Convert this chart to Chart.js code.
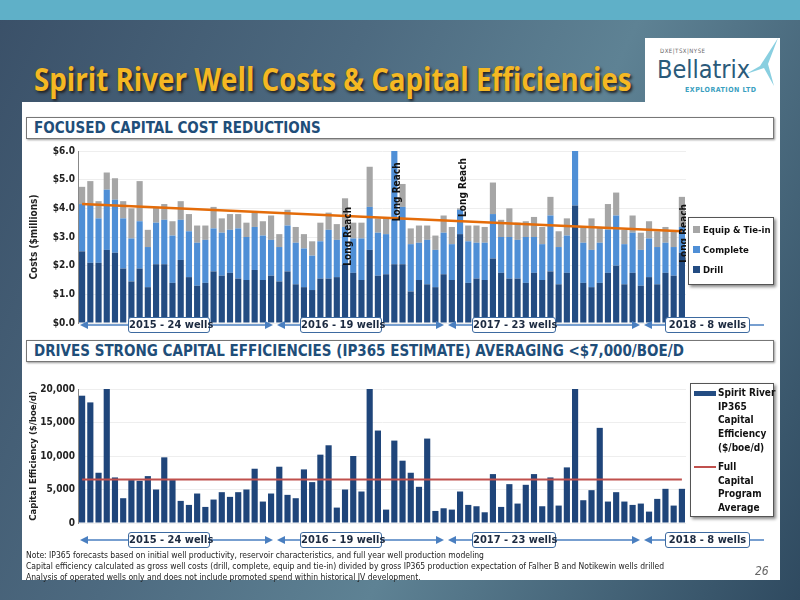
<!DOCTYPE html>
<html><head><meta charset="utf-8">
<script src="https://cdn.jsdelivr.net/npm/chart.js@4.4.1/dist/chart.umd.min.js"></script>
<style>
body{margin:0;width:800px;height:600px;overflow:hidden;font-family:"DejaVu Sans Condensed",sans-serif;
background:linear-gradient(115deg,#3a5068 0%,#4d6a80 35%,#5e8294 60%,#2f4a60 100%);position:relative}
.band{position:absolute;left:0;top:0;width:800px;height:20px;background:#5fb0c8}
.title{position:absolute;left:34px;top:56px;font-size:33px;font-weight:bold;color:#F5B823;text-shadow:2px 2px 3px #222;font-family:"Open Sans",sans-serif;white-space:nowrap;transform:scaleX(0.84);transform-origin:left top}
.logo{position:absolute;left:645px;top:38px;width:135px;height:64px;background:#fff}
.panel{position:absolute;left:22px;top:102px;width:758px;height:478px;background:#fff}
.hdr{position:absolute;left:26px;width:748px;height:22px;border:1.5px solid #777;background:#fff;color:#1F4E79;font-weight:bold;font-size:15px;line-height:20px;padding-left:7px;box-sizing:border-box;box-shadow:1px 1px 2px #999;white-space:nowrap}
.yr{position:absolute;height:16px;border:1.5px solid #3d6aa0;border-radius:3px;background:#fff;color:#1c2a40;font-size:11px;font-weight:bold;text-align:center;line-height:14px;white-space:nowrap;box-sizing:border-box}
.legend{position:absolute;background:#fff;border:1px solid #555;box-shadow:2px 2px 3px #888;font-size:10px;font-weight:bold;color:#111;white-space:nowrap}
.note{position:absolute;left:26px;font-size:8.5px;color:#222;white-space:nowrap}
canvas{position:absolute}
</style></head><body>
<div class="band"></div>
<div class="title">Spirit River Well Costs &amp; Capital Efficiencies</div>
<div class="logo">
 <div style="position:absolute;left:15px;top:9px;font-size:6px;color:#666;letter-spacing:0.5px">DXE|TSX|NYSE</div>
 <div style="position:absolute;left:12px;top:17px;font-size:25px;color:#2a5a7a">Bellatrix</div>
 <div style="position:absolute;left:40px;top:48px;font-size:7px;color:#3aa0c0;font-weight:bold;letter-spacing:0.5px">EXPLORATION LTD</div>
 <svg style="position:absolute;left:95px;top:0" width="40" height="50"><polygon points="38,0 20,28 6,36 24,30 34,48 28,26" fill="#6cc3d8" opacity="0.8"/></svg>
</div>
<div class="panel"></div>
<div class="hdr" style="top:117px">FOCUSED CAPITAL COST REDUCTIONS</div>
<div class="hdr" style="top:340px">DRIVES STRONG CAPITAL EFFICIENCIES (IP365 ESTIMATE) AVERAGING &lt;$7,000/BOE/D</div>
<canvas id="c1" style="left:24px;top:142px" width="662" height="190"></canvas>
<canvas id="c2" style="left:24px;top:380px" width="662" height="152"></canvas>
<div class="legend" style="left:688px;top:217px;width:84px;height:66px;font-size:9.5px">
 <div style="position:absolute;left:4px;top:6px"><span style="display:inline-block;width:7px;height:7px;background:#A6A6A6;margin-right:3px"></span>Equip &amp; Tie-in</div>
 <div style="position:absolute;left:4px;top:26px"><span style="display:inline-block;width:7px;height:7px;background:#4F8FD6;margin-right:3px"></span>Complete</div>
 <div style="position:absolute;left:4px;top:46px"><span style="display:inline-block;width:7px;height:7px;background:#234C82;margin-right:3px"></span>Drill</div>
</div>
<div class="legend" style="left:690px;top:383px;width:82px;height:132px;line-height:13.7px">
 <span style="position:absolute;left:3px;top:7px;width:22px;height:5px;background:#234C82"></span>
 <div style="position:absolute;left:27px;top:2px">Spirit River<br>IP365<br>Capital<br>Efficiency<br>($/boe/d)</div>
 <span style="position:absolute;left:3px;top:82px;width:22px;height:2px;background:#C0504D"></span>
 <div style="position:absolute;left:27px;top:76px">Full<br>Capital<br>Program<br>Average</div>
</div>
<svg id="arr" style="position:absolute;left:0;top:0" width="800" height="600"></svg>
<div class="note" style="top:550px">Note: IP365 forecasts based on initial well productivity, reservoir characteristics, and full year well production modeling</div>
<div class="note" style="top:561px">Capital efficiency calculated as gross well costs (drill, complete, equip and tie-in) divided by gross IP365 production expectation of Falher B and Notikewin wells drilled</div>
<div class="note" style="top:572px">Analysis of operated wells only and does not include promoted spend within historical JV development.</div>
<div style="position:absolute;left:755px;top:564px;font-size:12px;font-style:italic;color:#666">26</div>
<script>
const years = ["2015 - 24 wells","2016 - 19 wells","2017 - 23 wells","2018 - 8 wells"];
const yearCounts = [24,19,23,8];
const drill = [2.5,2.1,2.1,2.55,2.45,1.9,1.45,1.9,1.25,2.05,2.05,1.4,2.2,1.6,1.3,1.4,1.8,1.65,1.75,1.55,1.5,1.85,1.5,1.65,
 1.45,1.8,1.35,1.25,1.15,1.55,1.55,1.6,2.05,1.75,1.5,2.55,1.65,1.7,2.05,2.05,1.1,1.5,1.35,1.25,
 1.7,1.5,3.1,1.4,1.55,1.5,2.25,1.75,1.55,1.55,1.4,1.75,1.5,1.8,1.35,1.75,4.1,1.4,1.25,1.4,1.75,2.0,1.35,1.75,
 1.3,1.6,1.35,1.75,1.65,2.45];
const complete = [1.65,2.05,1.55,2.1,1.85,1.75,1.5,1.65,1.4,1.45,1.55,1.65,1.4,1.6,1.5,1.5,1.5,1.5,1.5,1.75,1.5,1.5,1.55,1.25,
 1.2,1.6,1.45,1.35,1.2,1.3,1.7,1.3,1.3,1.2,1.45,1.5,1.5,1.4,3.95,2.0,1.65,1.3,1.55,1.3,
 1.45,1.25,0.85,1.45,1.25,1.3,1.55,1.25,1.45,1.35,1.6,1.25,1.25,1.95,1.3,1.3,1.9,1.4,1.3,1.4,1.5,1.75,1.4,1.4,
 1.25,1.35,1.3,1.05,1.0,0.9];
const equip = [0.6,0.8,0.6,0.6,0.75,0.6,1.05,1.4,0.6,0.55,0.55,0.5,0.65,0.6,0.6,0.5,0.75,0.5,0.55,0.5,0.5,0.5,0.5,0.85,
 0.45,0.55,0.55,0.5,0.5,0.65,0.6,0.55,1.0,0.55,0.55,1.4,0.5,0.55,0,0.8,0.55,0.6,0.5,0.5,
 0.6,0.6,0.05,0.55,0.6,0.55,1.1,0.6,1.0,0.6,0.55,0.7,0.6,0.65,0.55,0.6,0,0.55,1.1,0.55,0.9,0.8,0.5,0.6,
 0.6,0.6,0.55,0.55,0.55,1.05];
const trend = [4.15,3.2]; // first and last well
const efficiency = [19000,18000,7500,20000,6800,3700,6400,6300,7000,5000,9800,6400,3300,2700,4400,2400,3500,4600,3900,4600,5000,8100,3200,4400,
 8400,4200,3700,8000,6100,10200,11600,2300,5000,10000,4700,20000,13800,2000,12300,9300,7500,5400,12600,
 1800,2200,2000,4700,2700,2500,1600,7300,2400,5800,2900,5700,7300,2500,6800,2600,8300,20000,3400,4900,14200,3200,4600,
 3200,2700,2900,1700,3600,5100,2600,5100];
const programAverage = 6500;
const longReach = [[32,4.05],[38,5.6],[46,5.75],[73,4.15]]; // well index, label top value
const costTicks = ["$0.0","$1.0","$2.0","$3.0","$4.0","$5.0","$6.0"];

const labels = drill.map((_, i) => "W" + (i + 1));
const trendData = labels.map((_, i) => i === 0 ? trend[0] : (i === labels.length - 1 ? trend[1] : null));
const tickFont = {family:"'DejaVu Sans Condensed'",size:10,weight:'bold'};
const fitY = s => { s.width = 54; };
const lrPlugin = {id:'lr',afterDatasetsDraw(ch){
  const ctx=ch.ctx, meta=ch.getDatasetMeta(0), y=ch.scales.y;
  ctx.save();ctx.font="bold 10px 'DejaVu Sans Condensed'";ctx.fillStyle="#111";
  longReach.forEach(([i,v])=>{const x=meta.data[i].x+3;ctx.save();ctx.translate(x,y.getPixelForValue(v));
   ctx.rotate(-Math.PI/2);ctx.textAlign='right';ctx.textBaseline='middle';ctx.fillText("Long Reach",0,0);ctx.restore();});
  ctx.restore();}};
new Chart(document.getElementById('c1'),{
 data:{labels,datasets:[
  {type:'bar',label:'Drill',data:drill,backgroundColor:'#234C82',stack:'s',order:2},
  {type:'bar',label:'Complete',data:complete,backgroundColor:'#4F8FD6',stack:'s',order:2},
  {type:'bar',label:'Equip & Tie-in',data:equip,backgroundColor:'#A6A6A6',stack:'s',order:2},
  {type:'line',data:trendData,borderColor:'#E46C0A',borderWidth:2.5,pointRadius:0,spanGaps:true,order:1}]},
 options:{responsive:false,animation:false,layout:{padding:{top:6,right:0,bottom:7}},
  datasets:{bar:{barPercentage:0.75,categoryPercentage:1}},
  plugins:{legend:{display:false},tooltip:{enabled:false}},
  scales:{x:{stacked:true,display:false},
   y:{stacked:true,min:0,max:6,afterFit:fitY,ticks:{stepSize:1,font:tickFont,color:'#222',callback:(v)=>costTicks[v]},
    grid:{color:'#eeeeee',drawTicks:false},border:{color:'#888'},
    title:{display:true,text:'Costs ($millions)',font:{family:"'DejaVu Sans Condensed'",size:10,weight:'bold'},color:'#222'}}}},
 plugins:[lrPlugin]});
new Chart(document.getElementById('c2'),{
 data:{labels,datasets:[
  {type:'line',data:labels.map(()=>programAverage),borderColor:'#C0504D',borderWidth:2,pointRadius:0,order:1},
  {type:'bar',data:efficiency,backgroundColor:'#1F457A',order:2}]},
 options:{responsive:false,animation:false,layout:{padding:{top:4,bottom:6}},
  datasets:{bar:{barPercentage:0.75,categoryPercentage:1}},
  plugins:{legend:{display:false},tooltip:{enabled:false}},
  scales:{x:{display:false},
   y:{min:0,max:20000,afterFit:fitY,ticks:{stepSize:5000,font:tickFont,color:'#222',callback:v=>v.toLocaleString('en-US')},
    grid:{color:'#eeeeee',drawTicks:false},border:{color:'#888'},
    title:{display:true,text:'Capital Efficiency ($/boe/d)',font:{family:"'DejaVu Sans Condensed'",size:9.5,weight:'bold'},color:'#222'}}}}});

const svg=document.getElementById('arr');
const ranges=[[80,273],[277,444],[448,640],[644,770]];
const boxX=[[128,210],[300,382],[472,556],[665,750]];
[325,540].forEach(yc=>{
 ranges.forEach(([a,b],k)=>{
  svg.innerHTML+=`<line x1="${a+6}" y1="${yc}" x2="${b-6}" y2="${yc}" stroke="#4a7fc0" stroke-width="1.5"/>`+
   `<polygon points="${a},${yc} ${a+8},${yc-4} ${a+8},${yc+4}" fill="#4a7fc0"/>`+
   (k<3?`<polygon points="${b},${yc} ${b-8},${yc-4} ${b-8},${yc+4}" fill="#4a7fc0"/>`:'');
  const d=document.createElement('div');d.className='yr';d.textContent=years[k];
  d.style.left=boxX[k][0]+'px';d.style.top=(yc-8)+'px';d.style.width=(boxX[k][1]-boxX[k][0])+'px';
  document.body.appendChild(d);
 });
});
</script>
</body></html>
